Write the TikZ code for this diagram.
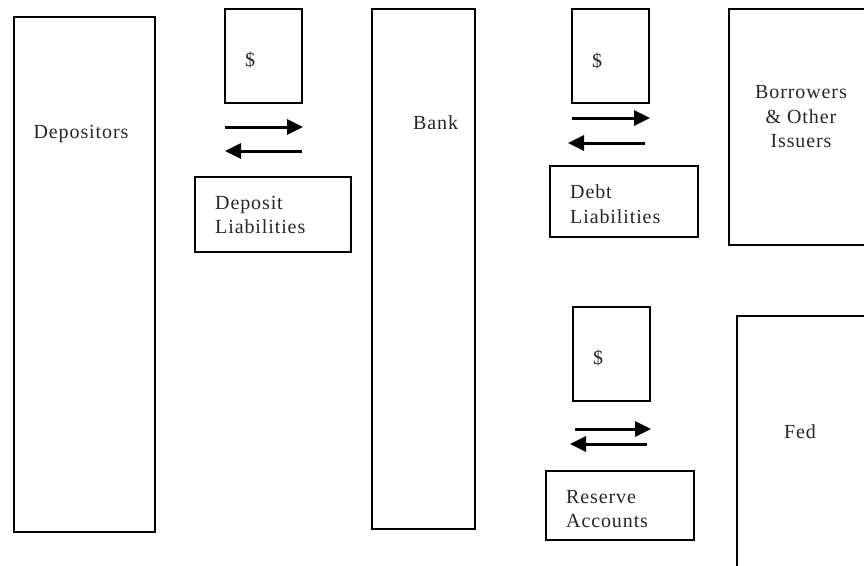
\documentclass[tikz,border=0pt]{standalone}
\usepackage{fontspec}
\setmainfont{Liberation Serif}
\usepackage{tikz}
\usetikzlibrary{arrows.meta, positioning}
\tikzset{
  box/.style={
    rectangle, draw=black, line width=2.4pt, fill=none,
    anchor=north west, inner sep=0pt
  },
  cashbox/.style={box, minimum width=77pt, minimum height=94pt},
  notebox/.style={box, minimum width=148pt, minimum height=71pt},
  txt/.style={font=\fontsize{20}{24.5}\selectfont\addfontfeature{LetterSpace=4.5},
    inner sep=0pt, text=black!85},
  ltxt/.style={txt, anchor=west, align=left},
  flow/.style={-{Triangle[length=16pt, width=15pt]}, line width=3pt},
}

\begin{document}
\begin{tikzpicture}[x=1pt, y=-1pt]

  \useasboundingbox (0,0) rectangle (864,565);
  \clip (0,0) rectangle (864,565);

  % Big parties
  \node[box, minimum width=141pt, minimum height=515pt] (dep) at (13,16) {};
  \node[box, minimum width=103pt, minimum height=520pt] (bank) at (371,8) {};
  \node[box, minimum width=150pt, minimum height=236pt] (borr) at (728,8) {};
  \node[box, minimum width=140pt, minimum height=270pt] (fed) at (736,315) {};

  \node[txt] (deplbl) at (81,134) {Depositors};
  \node[ltxt] (banklbl) at (413,123) {Bank};
  \node[txt, align=center] (borrlbl) at (801,117) {Borrowers\\\& Other\\Issuers};
  \node[txt] (fedlbl) at (800,432) {Fed};

  % Cash boxes
  \node[cashbox] (cash1) at (224,8) {};
  \node[cashbox] (cash2) at (571,8) {};
  \node[cashbox] (cash3) at (572,306) {};
  \node[txt] (d1) at (250,60) {\$};
  \node[txt] (d2) at (597,61) {\$};
  \node[txt] (d3) at (598,358) {\$};

  % Claim boxes
  \node[notebox, minimum width=156pt, minimum height=75pt] (depliab) at (194,176) {};
  \node[notebox] (debtliab) at (549,165) {};
  \node[notebox, minimum height=69pt] (resacc) at (545,470) {};
  \node[ltxt] (depliablbl) at (215,215) {Deposit\\Liabilities};
  \node[ltxt] (debtliablbl) at (570,204) {Debt\\Liabilities};
  \node[ltxt] (resacclbl) at (566,509) {Reserve\\Accounts};

  % Arrows
  \coordinate (a1s) at (225,127);  \coordinate (a1e) at (303,127);
  \coordinate (b1s) at (302,151);  \coordinate (b1e) at (225,151);
  \coordinate (a2s) at (572,118);  \coordinate (a2e) at (650,118);
  \coordinate (b2s) at (645,143);  \coordinate (b2e) at (568,143);
  \coordinate (a3s) at (575,429);  \coordinate (a3e) at (651,429);
  \coordinate (b3s) at (647,444);  \coordinate (b3e) at (570,444);
  \draw[flow] (a1s) -- (a1e);
  \draw[flow] (b1s) -- (b1e);
  \draw[flow] (a2s) -- (a2e);
  \draw[flow] (b2s) -- (b2e);
  \draw[flow] (a3s) -- (a3e);
  \draw[flow] (b3s) -- (b3e);

\end{tikzpicture}
\end{document}
